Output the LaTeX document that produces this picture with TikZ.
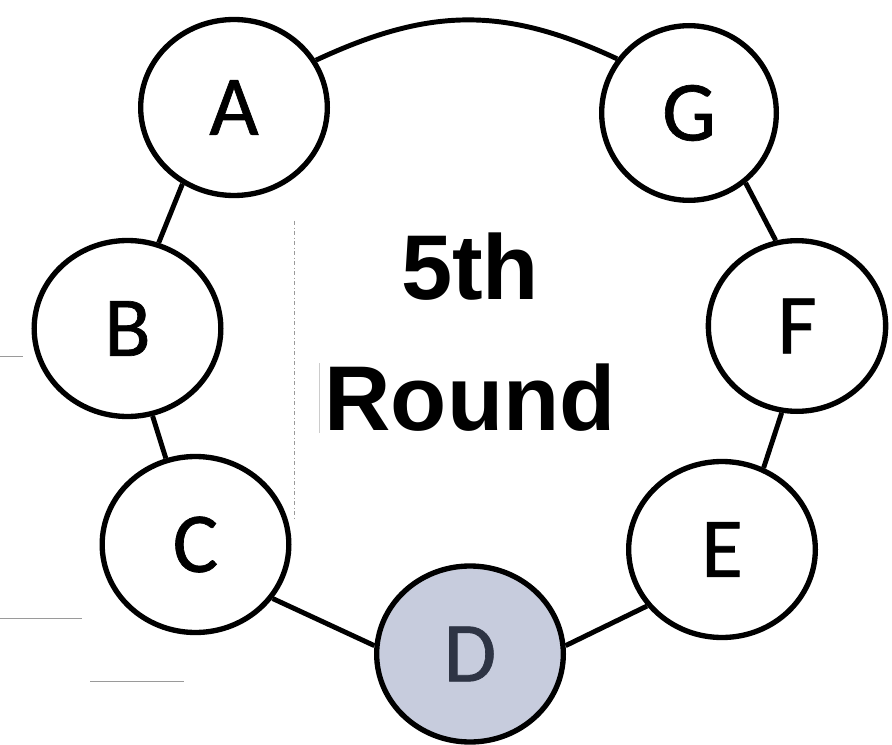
\documentclass[tikz,border=0pt]{standalone}
\usepackage{fontspec}
\newfontfamily\lettfont[FakeBold=0.8]{Carlito}
\newfontfamily\titlefont{Liberation Sans}
\definecolor{dfill}{HTML}{C7CCDD}
\definecolor{dtext}{HTML}{2E3444}
\definecolor{faint}{HTML}{9A9A9A}
\begin{document}
\begin{tikzpicture}[x=0.75pt,y=0.75pt,
  person/.style={ellipse, draw=black, line width=4pt, fill=white,
    minimum width=140pt, minimum height=132pt, inner sep=0pt,
    font=\lettfont\fontsize{64pt}{64pt}\selectfont},
  link/.style={line width=3.7pt, draw=black},
  artefact/.style={draw=faint, line width=0.5pt}]
\usetikzlibrary{shapes.geometric}
\useasboundingbox (0,0) rectangle (892,744);
% faint scan artefacts
\draw[artefact, dash dot] (294,523) -- (294,224);
\draw[artefact, draw=faint!50] (319,381) -- (319,311);
\draw[artefact] (0,388) -- (23,388);
\draw[artefact] (0,126) -- (82,126);
\draw[artefact] (90,63) -- (184,63);
% people
\node[person] (A) at (234,636.5) {A};
\node[person] (B) at (127.5,415.5) {B};
\node[person] (C) at (195.5,199.5) {C};
\node[person, fill=dfill, text=dtext] (D) at (470,90) {D};
\node[person] (E) at (722,194.5) {E};
\node[person, minimum width=133pt, minimum height=128pt] (F) at (797,418) {F};
\node[person, minimum width=131pt, minimum height=131pt] (G) at (689,631) {G};
% title
\node[align=center, inner sep=0pt, font=\titlefont\bfseries\fontsize{69pt}{98pt}\selectfont] (T) at (470,412) {5th\\Round};
% connectors
\draw[link] (A.30) .. controls +(25:93.75pt) and +(155:93.75pt) .. (G.143);
\draw[link] (A.236) -- (B.70);
\draw[link] (B.286) -- (C.109);
\draw[link] (C.325) -- (D.175);
\draw[link] (D.5) -- (E.217);
\draw[link] (E.63) -- (F.260);
\draw[link] (F.104) -- (G.309);
\end{tikzpicture}
\end{document}
